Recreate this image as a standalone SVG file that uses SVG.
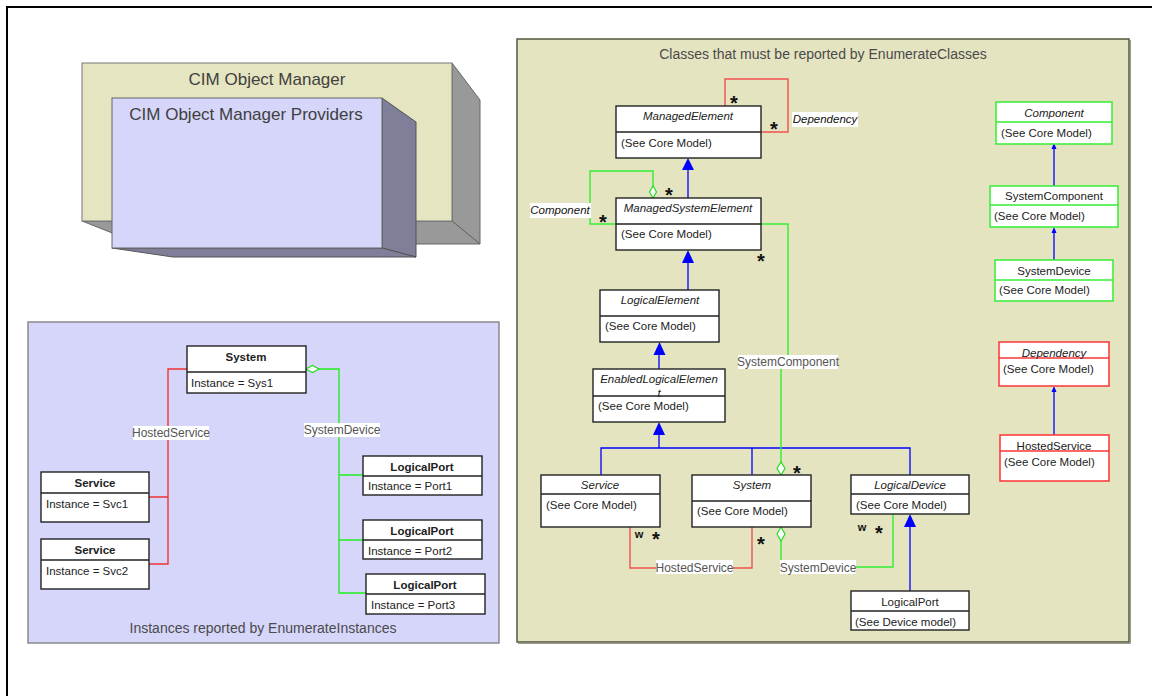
<svg xmlns="http://www.w3.org/2000/svg" width="1152" height="696" viewBox="0 0 1152 696">
<defs>
<style>
text{font-family:"Liberation Sans",Arial,sans-serif;fill:#222}
.box{fill:#fff;stroke:#222;stroke-width:1.4}
.gbox{fill:#fff;stroke:#33ee33;stroke-width:1.5}
.rbox{fill:#fff;stroke:#ff3333;stroke-width:1.5}
.div{stroke:#222;stroke-width:1.4}
.gdiv{stroke:#33ee33;stroke-width:1.5}
.rdiv{stroke:#ff3333;stroke-width:1.5}
.t{font-size:11.5px;text-anchor:middle}
.ti{font-size:11.5px;text-anchor:middle;font-style:italic}
.tb{font-size:11.5px;text-anchor:middle;font-weight:bold}
.a{font-size:11.5px}
.red{fill:none;stroke:#f05050;stroke-width:1.4}
.green{fill:none;stroke:#33ee33;stroke-width:1.4}
.blue{fill:none;stroke:#0000ff;stroke-width:1.3}
.tri{fill:#0000ff}
.dia{fill:#fff;stroke:#22dd22;stroke-width:1.2}
.lbg{fill:#fff}
.lbl{font-size:12px;fill:#555;text-anchor:middle}
.lbli{font-size:11.5px;fill:#111;font-style:italic;text-anchor:middle}
.star{font-size:20px;font-weight:bold;fill:#111;text-anchor:middle}
.w{font-size:11px;font-weight:bold;fill:#111;text-anchor:middle}
.cap{font-size:14px;fill:#4a4a4a;text-anchor:middle}
</style>
</defs>
<rect width="1152" height="696" fill="#fff"/>
<path d="M7,696 V7 H1152" fill="none" stroke="#000" stroke-width="2"/>

<!-- 3D boxes -->
<g id="cim-object-manager">
<polygon points="452,63 480,100 480,244 452,221" fill="#999" stroke="#666" stroke-width="1"/>
<polygon points="82,221 452,221 480,244 140,244" fill="#999" stroke="#666" stroke-width="1"/>
<rect x="82" y="63" width="370" height="158" fill="#e6e5c1" stroke="#777" stroke-width="1"/>
<text x="267" y="85" style="font-size:17px;fill:#404040;text-anchor:middle">CIM Object Manager</text>
</g>
<g id="cim-providers">
<polygon points="382,98 416,122 416,257 382,248" fill="#7f7f99" stroke="#555" stroke-width="1"/>
<polygon points="112,248 382,248 416,257 173,257" fill="#7f7f99" stroke="#555" stroke-width="1"/>
<rect x="112" y="98" width="270" height="150" fill="#d6d6fa" stroke="#666" stroke-width="1"/>
<text x="246" y="120" style="font-size:17px;fill:#404040;text-anchor:middle">CIM Object Manager Providers</text>
</g>

<!-- Left instance panel -->
<g id="instances-panel">
<rect x="28" y="322" width="471" height="321" fill="#d6d6fa" stroke="#8a8a8a" stroke-width="1.5"/>
<text class="cap" x="263" y="633">Instances reported by EnumerateInstances</text>
</g>

<!-- Right class panel -->
<g id="classes-panel">
<rect x="517" y="39" width="612" height="603" fill="#e5e4c1" stroke="#55553f" stroke-width="1.5"/>
<path d="M518,643.5 H1130.5 V40" fill="none" stroke="#9a9a8a" stroke-width="1"/>
<text class="cap" x="823" y="59">Classes that must be reported by EnumerateClasses</text>
</g>

<!-- Connectors -->
<g id="connectors">
<!-- left panel -->
<path class="red" d="M187,369 H168 V564 H149 M168,497 H149" style="stroke:#ee3333"/>
<path class="green" d="M319,369 H339 V593 H366 M339,475 H363 M339,540 H363" style="stroke:#22ee22"/>
<polygon class="dia" points="306,369 312.5,365.5 319,369 312.5,372.5"/>
<rect class="lbg" x="133" y="426" width="76" height="14"/>
<text class="lbl" x="171" y="437">HostedService</text>
<rect class="lbg" x="304" y="423" width="76" height="14"/>
<text class="lbl" x="342" y="434">SystemDevice</text>

<!-- Dependency self loop -->
<path class="red" d="M725,106 V79 H788 V132 H761"/>
<text class="star" x="734" y="110">*</text>
<text class="star" x="774" y="136">*</text>
<rect class="lbg" x="792" y="112" width="66" height="15"/>
<text class="lbli" x="825" y="123">Dependency</text>

<!-- Component self loop -->
<path class="green" d="M653,186 V171 H590 V224 H616"/>
<polygon class="dia" points="653,198 649.5,192 653,186 656.5,192"/>
<text class="star" x="669" y="202">*</text>
<text class="star" x="603" y="229">*</text>
<rect class="lbg" x="530" y="203" width="61" height="15"/>
<text class="lbli" x="560" y="214">Component</text>

<!-- generalizations -->
<path class="blue" d="M688,198 V170"/>
<polygon class="tri" points="688,158 682,170 694,170"/>
<path class="blue" d="M688,290 V263"/>
<polygon class="tri" points="688,250 682,263 694,263"/>
<path class="blue" d="M659,369 V355"/>
<polygon class="tri" points="659.5,342 653.5,355 665.5,355"/>
<path class="blue" d="M659,435 V448 M601,475 V448 H910 V475 M752,448 V475"/>
<polygon class="tri" points="659,422 653,435 665,435"/>
<path class="blue" d="M910,591 V527"/>
<polygon class="tri" points="910,514 904,527 916,527"/>

<!-- SystemComponent -->
<path class="green" d="M761,224 H788 V362 H781 V462"/>
<polygon class="dia" points="781,475 777,468.5 781,462 785,468.5"/>
<text class="star" x="761" y="268">*</text>
<text class="star" x="797" y="480">*</text>
<rect class="lbg" x="738" y="355" width="100" height="14"/>
<text class="lbl" x="788" y="366">SystemComponent</text>

<!-- HostedService -->
<path class="red" d="M630,527 V568 H752 V527"/>
<text class="w" x="639" y="538">w</text>
<text class="star" x="656" y="546">*</text>
<text class="star" x="761" y="551">*</text>
<rect class="lbg" x="656" y="560" width="77" height="14"/>
<text class="lbl" x="694.5" y="571.5">HostedService</text>

<!-- SystemDevice -->
<path class="green" d="M781,541 V560 M856,567 H893 V514"/>
<polygon class="dia" points="781,527 777,534 781,541 785,534"/>
<text class="w" x="862" y="531">w</text>
<text class="star" x="879" y="540">*</text>
<rect class="lbg" x="780" y="560" width="76" height="14"/>
<text class="lbl" x="818" y="571.5">SystemDevice</text>

<!-- right column -->
<path class="blue" d="M1054,186 V148"/>
<polygon class="tri" points="1054,143 1051.5,149 1056.5,149"/>
<path class="blue" d="M1054,260 V231"/>
<polygon class="tri" points="1054,227 1051.5,233 1056.5,233"/>
<path class="blue" d="M1054,435 V390"/>
<polygon class="tri" points="1054,386 1051.5,392 1056.5,392"/>
</g>

<!-- Left panel instance nodes -->
<g id="inst-system">
<rect class="box" x="187" y="346" width="119" height="47"/>
<line class="div" x1="187" y1="372" x2="306" y2="372"/>
<text class="tb" x="246" y="361">System</text>
<text class="a" x="191" y="387">Instance = Sys1</text>
</g>
<g id="inst-service1">
<rect class="box" x="41" y="472" width="108" height="50"/>
<line class="div" x1="41" y1="493" x2="149" y2="493"/>
<text class="tb" x="95" y="487">Service</text>
<text class="a" x="46" y="508">Instance = Svc1</text>
</g>
<g id="inst-service2">
<rect class="box" x="41" y="539" width="108" height="50"/>
<line class="div" x1="41" y1="560" x2="149" y2="560"/>
<text class="tb" x="95" y="554">Service</text>
<text class="a" x="46" y="575">Instance = Svc2</text>
</g>
<g id="inst-port1">
<rect class="box" x="363" y="456" width="119" height="39"/>
<line class="div" x1="363" y1="476" x2="482" y2="476"/>
<text class="tb" x="422" y="471">LogicalPort</text>
<text class="a" x="368" y="490">Instance = Port1</text>
</g>
<g id="inst-port2">
<rect class="box" x="363" y="520" width="119" height="39"/>
<line class="div" x1="363" y1="540" x2="482" y2="540"/>
<text class="tb" x="422" y="535">LogicalPort</text>
<text class="a" x="368" y="555">Instance = Port2</text>
</g>
<g id="inst-port3">
<rect class="box" x="366" y="574" width="119" height="40"/>
<line class="div" x1="366" y1="594" x2="485" y2="594"/>
<text class="tb" x="425" y="589">LogicalPort</text>
<text class="a" x="371" y="609">Instance = Port3</text>
</g>

<!-- Right panel class nodes -->
<g id="managed-element">
<rect class="box" x="616" y="106" width="145" height="52"/>
<line class="div" x1="616" y1="132" x2="761" y2="132"/>
<text class="ti" x="688" y="120">ManagedElement</text>
<text class="a" x="621" y="147">(See Core Model)</text>
</g>
<g id="managed-system-element">
<rect class="box" x="616" y="198" width="145" height="52"/>
<line class="div" x1="616" y1="224" x2="761" y2="224"/>
<text class="ti" x="688" y="212">ManagedSystemElement</text>
<text class="a" x="621" y="238">(See Core Model)</text>
</g>
<g id="logical-element">
<rect class="box" x="600" y="290" width="119" height="52"/>
<line class="div" x1="600" y1="316" x2="719" y2="316"/>
<text class="ti" x="660" y="304">LogicalElement</text>
<text class="a" x="605" y="330">(See Core Model)</text>
</g>
<g id="enabled-logical-element">
<rect class="box" x="593" y="369" width="132" height="53"/>
<line class="div" x1="593" y1="396" x2="725" y2="396"/>
<text class="ti" x="659" y="383">EnabledLogicalElemen</text>
<text class="ti" x="659" y="397">t</text>
<text class="a" x="598" y="410">(See Core Model)</text>
</g>
<g id="service">
<rect class="box" x="541" y="475" width="119" height="52"/>
<line class="div" x1="541" y1="494" x2="660" y2="494"/>
<text class="ti" x="600" y="489">Service</text>
<text class="a" x="546" y="509">(See Core Model)</text>
</g>
<g id="system">
<rect class="box" x="692" y="475" width="119" height="52"/>
<line class="div" x1="692" y1="501" x2="811" y2="501"/>
<text class="ti" x="752" y="489">System</text>
<text class="a" x="697" y="515">(See Core Model)</text>
</g>
<g id="logical-device">
<rect class="box" x="851" y="475" width="118" height="39"/>
<line class="div" x1="851" y1="494" x2="969" y2="494"/>
<text class="ti" x="910" y="489">LogicalDevice</text>
<text class="a" x="856" y="509">(See Core Model)</text>
</g>
<g id="logical-port">
<rect class="box" x="851" y="591" width="118" height="39"/>
<line class="div" x1="851" y1="611" x2="969" y2="611"/>
<text class="t" x="910" y="606">LogicalPort</text>
<text class="a" x="855" y="626">(See Device model)</text>
</g>
<g id="component">
<rect class="gbox" x="996" y="102" width="116" height="42"/>
<line class="gdiv" x1="996" y1="122" x2="1112" y2="122"/>
<text class="ti" x="1054" y="117">Component</text>
<text class="a" x="1001" y="137">(See Core Model)</text>
</g>
<g id="system-component">
<rect class="gbox" x="990" y="186" width="128" height="41"/>
<line class="gdiv" x1="990" y1="205" x2="1118" y2="205"/>
<text class="t" x="1054" y="200">SystemComponent</text>
<text class="a" x="994" y="220">(See Core Model)</text>
</g>
<g id="system-device">
<rect class="gbox" x="995" y="260" width="118" height="41"/>
<line class="gdiv" x1="995" y1="280" x2="1113" y2="280"/>
<text class="t" x="1054" y="275">SystemDevice</text>
<text class="a" x="999" y="294">(See Core Model)</text>
</g>
<g id="dependency">
<rect class="rbox" x="999" y="342" width="110" height="44"/>
<line class="rdiv" x1="999" y1="358" x2="1109" y2="358"/>
<text class="ti" x="1054" y="357">Dependency</text>
<text class="a" x="1003" y="373">(See Core Model)</text>
</g>
<g id="hosted-service">
<rect class="rbox" x="1000" y="435" width="109" height="46"/>
<line class="rdiv" x1="1000" y1="451" x2="1109" y2="451"/>
<text class="t" x="1054" y="450">HostedService</text>
<text class="a" x="1004" y="466">(See Core Model)</text>
</g>
</svg>
